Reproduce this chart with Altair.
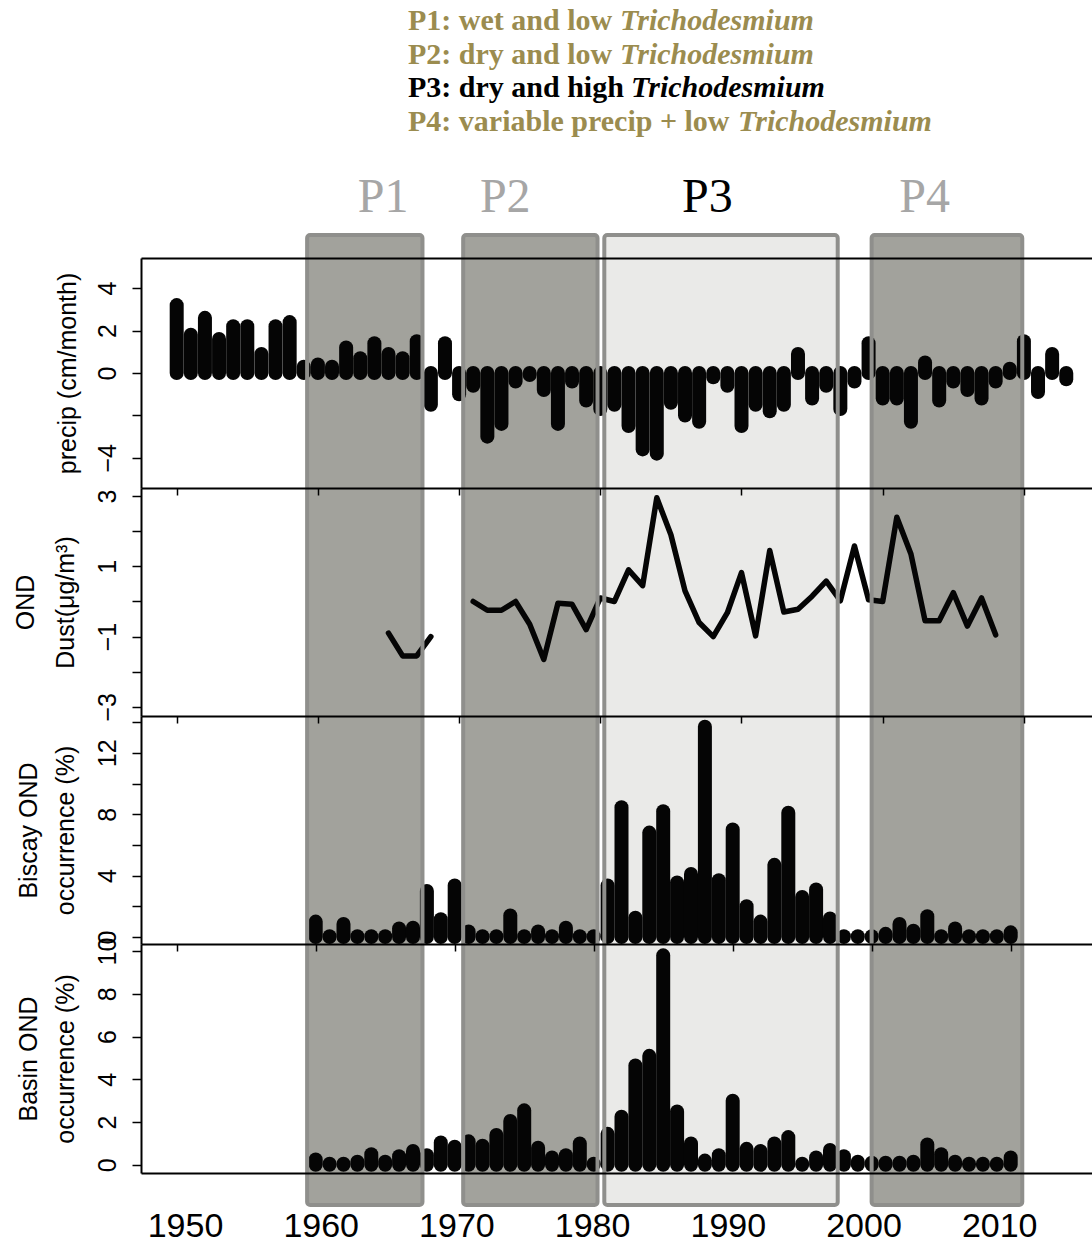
import altair as alt
import pandas as pd

# ---------------- data ----------------
precip_years = list(range(1950, 2014))
precip = [3.2, 1.8, 2.6, 1.6, 2.2, 2.2, 0.9, 2.2, 2.4, 0.3,
          0.4, 0.3, 1.2, 0.7, 1.4, 0.9, 0.7, 1.5, -1.5, 1.4,
          -1.0, -0.6, -3.0, -2.4, -0.4, -0.1, -0.8, -2.4, -0.4, -1.3,
          -1.7, -1.5, -2.5, -3.6, -3.8, -1.4, -2.0, -2.3, -0.2, -0.6,
          -2.5, -1.5, -1.8, -1.5, 0.9, -1.2, -0.6, -1.7, -0.4, 1.4,
          -1.2, -1.2, -2.3, 0.5, -1.3, -0.4, -0.8, -1.2, -0.4, 0.2,
          1.5, -0.9, 0.9, -0.3]

dust_years = [1965, 1966, 1967, 1968] + list(range(1971, 2009))
dust = [-0.9, -1.55, -1.55, -1.0,
        0.0, -0.25, -0.25, 0.0, -0.65, -1.65, -0.05, -0.08, -0.8, 0.1,
        0.0, 0.9, 0.45, 2.95, 1.9, 0.3, -0.6, -1.0, -0.32, 0.82,
        -0.98, 1.45, -0.3, -0.22, 0.15, 0.58, 0.02, 1.58, 0.05, 0.0,
        2.4, 1.35, -0.55, -0.55, 0.25, -0.7, 0.1, -0.95]

occ_years = list(range(1960, 2011))
biscay = [1.0, 0.05, 0.85, 0.05, 0.05, 0.05, 0.55, 0.6, 3.0, 1.15,
          3.35, 0.35, 0.05, 0.05, 1.4, 0.05, 0.35, 0.05, 0.6, 0.05,
          0.05, 3.35, 8.45, 1.25, 6.8, 8.2, 3.55, 4.1, 13.7, 3.7,
          7.0, 2.0, 1.0, 4.7, 8.1, 2.6, 3.1, 1.2, 0.05, 0.05,
          0.05, 0.2, 0.85, 0.4, 1.35, 0.05, 0.55, 0.05, 0.05, 0.05,
          0.3]
basin = [0.25, 0.05, 0.05, 0.15, 0.5, 0.15, 0.4, 0.65, 0.45, 1.05,
         0.85, 1.1, 0.9, 1.4, 2.05, 2.55, 0.8, 0.35, 0.45, 1.0,
         0.05, 1.45, 2.25, 4.65, 5.1, 9.8, 2.5, 1.0, 0.2, 0.45,
         3.0, 0.75, 0.65, 1.0, 1.3, 0.05, 0.35, 0.7, 0.4, 0.15,
         0.1, 0.1, 0.1, 0.15, 0.95, 0.5, 0.15, 0.05, 0.05, 0.05,
         0.35]

periods = ["P1", "P2", "P3", "P4"]
period_start = [1959.0, 1970.5, 1980.9, 2000.6]
period_end = [1967.5, 1980.4, 1998.1, 2011.7]
period_label_year = [1964.6, 1973.6, 1988.5, 2004.5]
period_fill = ["#a2a29c", "#a2a29c", "#eaeae8", "#a2a29c"]
period_label_color = ["#a6a6a6", "#a6a6a6", "#000000", "#a6a6a6"]

legend_prefix = ["P1: wet and low ", "P2: dry and low ",
                 "P3: dry and high ", "P4: variable precip + low "]
legend_taxon = "Trichodesmium"
legend_color = ["#9b8c4f", "#9b8c4f", "#000000", "#9b8c4f"]

decades = [1950, 1960, 1970, 1980, 1990, 2000, 2010]

# ---------------- tables ----------------
df_p = pd.DataFrame({"year": precip_years, "value": precip})
df_p["zero"] = 0.0
seg, s = [], 0
for i, yr in enumerate(dust_years):
    if i > 0 and yr - dust_years[i - 1] > 1:
        s += 1
    seg.append(s)
df_d = pd.DataFrame({"year": dust_years, "value": dust, "seg": seg})
df_b = pd.DataFrame({"year": occ_years, "value": biscay})
df_b["zero"] = 0.0
df_n = pd.DataFrame({"year": occ_years, "value": basin})
df_n["zero"] = 0.0
df_per = pd.DataFrame({"period": periods, "start": period_start, "end": period_end,
                       "lx": period_label_year, "fill": period_fill,
                       "lcol": period_label_color})

# ---------------- styling helpers ----------------
SANS = "Liberation Sans, Arial, Helvetica, sans-serif"
SERIF = "Liberation Serif, Times New Roman, Times, serif"
W, H = 951, 1173

DOM_A = [1947.472, 2014.823]   # precip / dust panels
DOM_B = [1947.432, 2015.849]   # occurrence panels
DOM_C = [1946.758, 2016.839]   # period boxes and year labels


def xs(dom):
    return alt.Scale(domain=dom, nice=False, zero=False)


def x_tick_axis(offset, ticks=True):
    return alt.Axis(orient="bottom", offset=offset, values=decades, labels=False,
                    ticks=ticks, tickSize=7, tickWidth=1.5, tickColor="black",
                    domain=True, domainColor="black", domainWidth=2,
                    title=None, grid=False, zindex=1)


def y_axis(values, expr, title, title_x, line_h=38):
    return alt.Axis(orient="left", values=values, labelExpr=expr, title=title,
                    titleX=title_x, titleBaseline="middle", titleAlign="center",
                    titleAngle=270, titleFont=SANS, titleFontSize=25,
                    titleFontWeight="normal", titleColor="black",
                    titleLineHeight=line_h,
                    labelFont=SANS, labelFontSize=25, labelColor="black",
                    labelAngle=270, labelAlign="center", labelBaseline="middle",
                    labelPadding=25, labelFlush=False, labelOverlap=False,
                    tickSize=9, tickWidth=1.5, tickColor="black",
                    domain=True, domainColor="black", domainWidth=2,
                    grid=False, zindex=1)


# ---------------- layers ----------------
bands = alt.Chart(df_per).mark_rect().encode(
    x=alt.X("start:Q", scale=xs(DOM_C),
            axis=alt.Axis(orient="bottom", values=decades, format="d",
                          ticks=False, tickSize=0, domain=False, labelPadding=36,
                          labelFont=SANS, labelFontSize=34, labelColor="black",
                          labelFlush=False, labelOverlap=False, title=None,
                          grid=False, zindex=1)),
    x2="end:Q",
    y=alt.value(235), y2=alt.value(1205),
    color=alt.Color("fill:N", scale=None),
)

bar_style = dict(strokeWidth=14, strokeCap="round", color="#050505")

precip_layer = alt.Chart(df_p).mark_rule(**bar_style).encode(
    x=alt.X("year:Q", scale=xs(DOM_A), axis=x_tick_axis(488 - H)),
    y=alt.Y("value:Q",
            scale=alt.Scale(domain=[-5.42, 5.42], range=[488, 258], nice=False, zero=False),
            axis=y_axis([-4, -2, 0, 2, 4], "datum.value == -2 ? '' : datum.label",
                        "precip (cm/month)", -74)),
    y2="zero:Q",
)

dust_layer = alt.Chart(df_d).mark_line(strokeWidth=5.5, color="#050505",
                                       strokeJoin="round", strokeCap="round").encode(
    x=alt.X("year:Q", scale=xs(DOM_A), axis=x_tick_axis(716 - H)),
    y=alt.Y("value:Q",
            scale=alt.Scale(domain=[-3.26, 3.23], range=[716, 488], nice=False, zero=False),
            axis=y_axis([-3, -2, -1, 0, 1, 2, 3],
                        "abs(datum.value) % 2 == 1 ? datum.label : ''",
                        ["OND", "Dust(\u03bcg/m\u00b3)"], -116, 40)),
    detail="seg:N",
)

biscay_layer = alt.Chart(df_b).mark_rule(**bar_style).encode(
    x=alt.X("year:Q", scale=xs(DOM_B), axis=x_tick_axis(944 - H)),
    y=alt.Y("value:Q",
            scale=alt.Scale(domain=[-0.46, 14.4], range=[944, 716], nice=False, zero=False),
            axis=y_axis([0, 2, 4, 6, 8, 10, 12, 14],
                        "datum.value % 4 == 0 ? datum.label : ''",
                        ["Biscay OND", "occurrence (%)"], -113, 37)),
    y2="zero:Q",
)

basin_layer = alt.Chart(df_n).mark_rule(**bar_style).encode(
    x=alt.X("year:Q", scale=xs(DOM_B), axis=x_tick_axis(0, ticks=False)),
    y=alt.Y("value:Q",
            scale=alt.Scale(domain=[-0.38, 10.33], range=[1173, 944], nice=False, zero=False),
            axis=y_axis([0, 2, 4, 6, 8, 10], "datum.label",
                        ["Basin OND", "occurrence (%)"], -113, 37)),
    y2="zero:Q",
)

band_border = alt.Chart(df_per).mark_rect(fillOpacity=0, stroke="#8f8f8c",
                                          strokeWidth=4, cornerRadius=3).encode(
    x=alt.X("start:Q", scale=xs(DOM_C), axis=None),
    x2="end:Q",
    y=alt.value(235), y2=alt.value(1205),
)

band_labels = alt.Chart(df_per).mark_text(font=SERIF, fontSize=48, align="center",
                                          baseline="alphabetic").encode(
    x=alt.X("lx:Q", scale=xs(DOM_C),
            axis=alt.Axis(orient="top", offset=-258, labels=False, ticks=False,
                          domain=True, domainColor="black", domainWidth=2,
                          title=None, grid=False, zindex=1)),
    y=alt.value(212),
    text="period:N",
    color=alt.Color("lcol:N", scale=None),
)

legend_layers = []
baselines = [30, 63.5, 97, 130.5]
italic_x = [479, 479, 490, 597]
for i in range(4):
    d = pd.DataFrame({"t": [legend_prefix[i]], "it": [legend_taxon]})
    legend_layers.append(
        alt.Chart(d).mark_text(font=SERIF, fontSize=30, fontWeight="bold",
                               align="left", baseline="alphabetic",
                               color=legend_color[i]).encode(
            x=alt.value(267), y=alt.value(baselines[i]), text="t:N"))
    legend_layers.append(
        alt.Chart(d).mark_text(font=SERIF, fontSize=30, fontWeight="bold",
                               fontStyle="italic", align="left", baseline="alphabetic",
                               color=legend_color[i]).encode(
            x=alt.value(italic_x[i]), y=alt.value(baselines[i]), text="it:N"))

chart = alt.layer(
    bands, precip_layer, dust_layer, biscay_layer, basin_layer,
    band_border, band_labels, *legend_layers
).resolve_scale(
    x="independent", y="independent"
).properties(
    width=W, height=H,
    padding={"left": 141, "top": 0, "right": 0, "bottom": 70},
    autosize=alt.AutoSizeParams(type="none"),
    background="white",
).configure_view(stroke=None)

chart.save("out.html", embed_options={"renderer": "svg", "actions": False})
